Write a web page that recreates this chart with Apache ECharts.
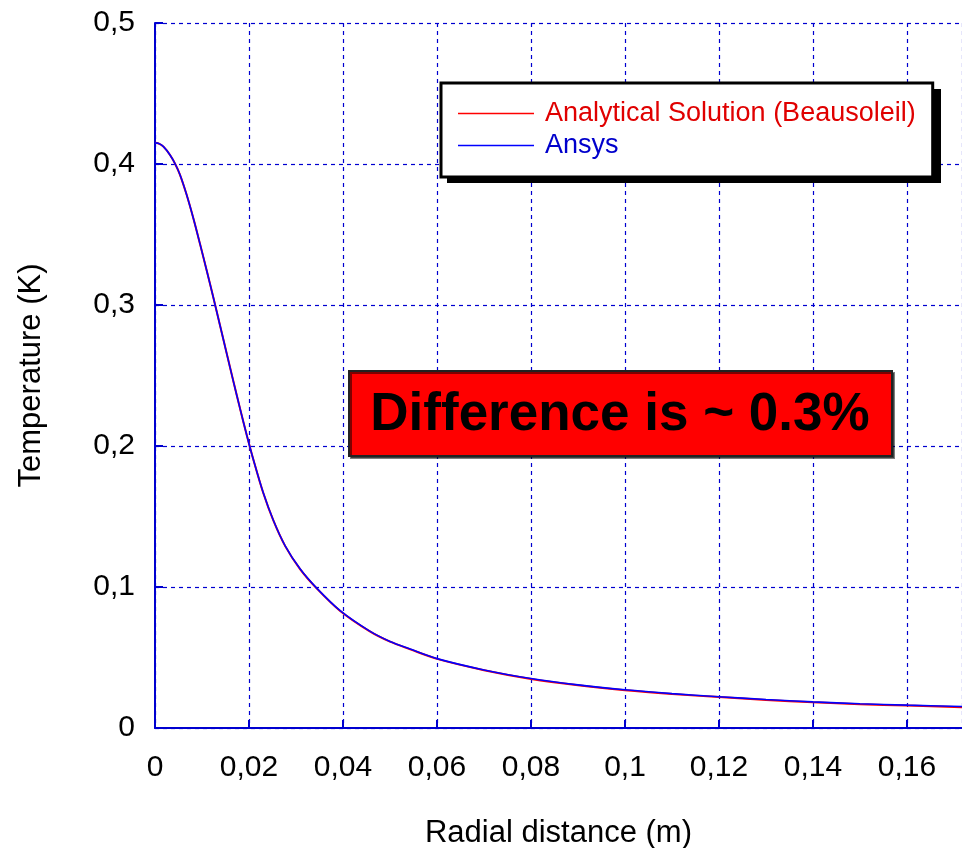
<!DOCTYPE html>
<html>
<head>
<meta charset="utf-8">
<script src="https://cdn.jsdelivr.net/npm/echarts@6/dist/echarts.min.js"></script>
<style>html,body{margin:0;padding:0;background:#fff;}#c{width:962px;height:848px;}</style>
</head>
<body>
<div id="c"></div>
<script>
const radial = [0, 0.0008, 0.0018, 0.0032, 0.0043, 0.0053, 0.0067, 0.0082, 0.0096, 0.011, 0.0124, 0.0138, 0.0153, 0.0167, 0.0181, 0.0195, 0.0210, 0.0230, 0.0252, 0.0277, 0.0309, 0.0344, 0.0394, 0.0457, 0.05, 0.0543, 0.06, 0.07, 0.08, 0.09, 0.1, 0.11, 0.12, 0.13, 0.14, 0.15, 0.16, 0.1717];
const analytical = [0.4150, 0.4145, 0.4123, 0.4064, 0.4000, 0.3925, 0.3785, 0.3610, 0.3430, 0.3245, 0.3055, 0.2860, 0.2650, 0.2455, 0.2265, 0.2080, 0.1895, 0.1670, 0.1470, 0.1290, 0.1125, 0.0990, 0.0830, 0.0685, 0.0612, 0.0558, 0.0490, 0.0410, 0.0348, 0.0303, 0.0268, 0.0241, 0.0219, 0.0199, 0.0182, 0.0169, 0.0159, 0.0148];
const ansys = [0.4150, 0.4145, 0.4123, 0.4064, 0.4000, 0.3925, 0.3785, 0.3610, 0.3430, 0.3245, 0.3055, 0.2860, 0.2650, 0.2455, 0.2265, 0.2080, 0.1895, 0.1672, 0.1472, 0.1292, 0.1127, 0.0992, 0.0832, 0.0687, 0.0614, 0.0560, 0.0492, 0.0412, 0.0351, 0.0306, 0.0271, 0.0244, 0.0222, 0.0202, 0.0185, 0.0172, 0.0162, 0.0152];
const seriesNames = ['Analytical Solution (Beausoleil)', 'Ansys'];
const xTitle = 'Radial distance (m)';
const yTitle = 'Temperature (K)';
const note = 'Difference is ~ 0.3%';

const pairs = (xs, ys) => xs.map((x, i) => [x, ys[i]]);
const comma = v => String(+v.toFixed(4)).replace('.', ',');
const font = 'Liberation Sans, Arial, sans-serif';
const blue = '#0000d0';

const chart = echarts.init(document.getElementById('c'), null, {renderer: 'canvas'});
chart.setOption({
  animation: false,
  backgroundColor: '#ffffff',
  grid: {left: 155, right: 0, top: 23, bottom: 120, containLabel: false, outerBoundsMode: 'none'},
  xAxis: {
    type: 'value', min: 0, max: 0.1717, interval: 0.02,
    name: xTitle, nameLocation: 'middle', nameGap: 90,
    nameTextStyle: {fontFamily: font, fontSize: 31, color: '#000'},
    axisLine: {show: true, lineStyle: {color: blue, width: 2}},
    axisTick: {show: true, inside: true, length: 8, lineStyle: {color: blue, width: 2}},
    axisLabel: {margin: 25, fontFamily: font, fontSize: 30, color: '#000', showMaxLabel: false,
      formatter: v => (Math.abs(v / 0.02 - Math.round(v / 0.02)) < 1e-6 ? comma(v) : '')},
    splitLine: {show: true, lineStyle: {color: blue, width: 1.2, type: [4, 4]}}
  },
  yAxis: {
    type: 'value', min: 0, max: 0.5, interval: 0.1,
    name: yTitle, nameLocation: 'middle', nameGap: 108,
    nameTextStyle: {fontFamily: font, fontSize: 31, color: '#000'},
    axisLine: {show: true, lineStyle: {color: blue, width: 2}},
    axisTick: {show: true, inside: true, length: 8, lineStyle: {color: blue, width: 2}},
    axisLabel: {margin: 20, fontFamily: font, fontSize: 30, color: '#000', padding: [5, 0, 0, 0], formatter: v => comma(v)},
    splitLine: {show: true, lineStyle: {color: blue, width: 1.2, type: [4, 4]}}
  },
  legend: {
    orient: 'vertical', left: 441, top: 83, z: 10,
    padding: [17, 17, 18, 17], itemGap: 5,
    itemWidth: 76, itemHeight: 1.5, icon: 'rect',
    backgroundColor: '#fff', borderColor: '#000', borderWidth: 3,
    textStyle: {fontFamily: font, fontSize: 27, padding: [0, 0, 0, 6]},
    data: [
      {name: seriesNames[0], textStyle: {color: '#e00000', padding: [0, 0, 0, 6]}},
      {name: seriesNames[1], textStyle: {color: '#0000cc', padding: [0, 0, 0, 6]}}
    ]
  },
  series: [
    {name: seriesNames[0], type: 'line', data: pairs(radial, analytical), symbol: 'none', smooth: 0.3,
      lineStyle: {color: '#ff0000', width: 2}, itemStyle: {color: '#ff0000'}},
    {name: seriesNames[1], type: 'line', data: pairs(radial, ansys), symbol: 'none', smooth: 0.3,
      lineStyle: {color: '#0000ff', width: 1.6}, itemStyle: {color: '#0000ff'}}
  ],
  graphic: [
    {type: 'rect', x: 447, y: 89, shape: {width: 494, height: 94}, style: {fill: '#000'}, z: 5},
    {type: 'rect', x: 349, y: 371, shape: {width: 543, height: 85},
      style: {fill: '#ff0000', stroke: '#222', lineWidth: 2, shadowColor: 'rgba(0,0,0,0.5)', shadowOffsetX: 2, shadowOffsetY: 2}, z: 100},
    {type: 'text', x: 620, y: 415, z: 101,
      style: {text: note, fontFamily: font, fontSize: 53, fontWeight: 'bold', fill: '#000', textAlign: 'center', textVerticalAlign: 'middle'}}
  ]
});
</script>
</body>
</html>
